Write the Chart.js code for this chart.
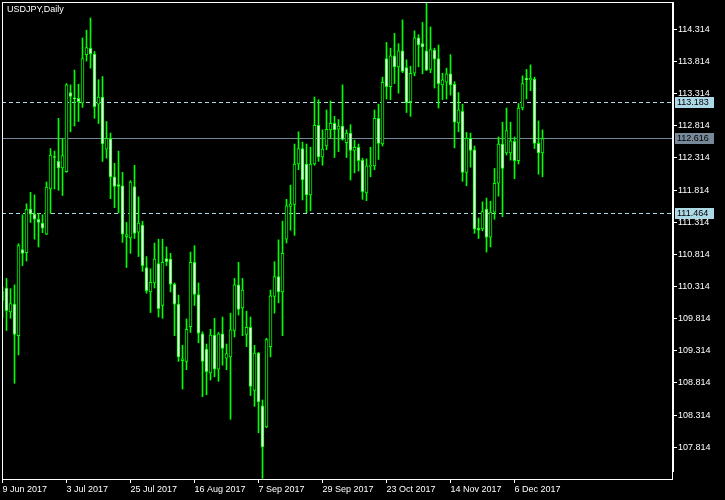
<!DOCTYPE html>
<html><head><meta charset="utf-8">
<script src="https://cdn.jsdelivr.net/npm/chart.js@4.4.1/dist/chart.umd.min.js"></script>
<style>html,body{margin:0;padding:0;background:#000;overflow:hidden}canvas{display:block}</style>
</head><body>
<canvas id="c" width="725" height="500" style="width:725px;height:500px"></canvas>
<script>
const symbolTitle = 'USDJPY,Daily';
const dateLabels = ['9 Jun 2017','3 Jul 2017','25 Jul 2017','16 Aug 2017','7 Sep 2017','29 Sep 2017','23 Oct 2017','14 Nov 2017','6 Dec 2017'];
const dateLabelIndex = [0,16,32,48,64,80,96,112,128];
const priceTicks = [107.814,108.314,108.814,109.314,109.814,110.314,110.814,111.314,111.814,112.314,112.814,113.314,113.814,114.314];
const levelPrices = [113.183, 112.616, 111.464];

const opens = [110.10,110.29,109.92,110.04,109.55,110.89,110.84,111.52,111.44,111.36,
111.30,111.13,111.83,112.33,112.26,112.16,112.10,113.33,113.25,113.24,
113.17,113.92,114.02,113.93,113.15,113.26,112.45,112.61,112.02,111.90,
111.88,111.09,111.07,111.87,111.16,111.27,110.61,110.23,110.37,110.67,
110.02,110.75,110.74,110.35,110.04,109.16,109.15,109.69,110.69,110.19,
109.58,109.34,108.97,109.56,109.03,109.58,109.20,109.22,109.63,110.34,
109.98,109.57,109.68,108.70,109.28,108.46,108.13,109.38,110.16,110.47,
110.23,111.05,111.56,111.59,112.22,112.46,112.22,111.74,112.22,112.82,
112.33,112.50,112.75,112.85,112.76,112.81,112.55,112.70,112.43,112.48,
112.28,111.77,112.18,112.19,112.93,112.53,113.86,113.42,113.90,113.73,
113.98,113.72,113.19,113.63,114.18,114.09,113.98,113.69,113.99,113.86,
113.45,113.49,113.62,113.46,112.86,113.04,112.09,112.62,112.44,111.22,
111.21,111.52,111.08,111.47,111.92,112.53,112.39,112.39,112.57,112.27,
113.09,113.55,113.53,113.54,112.54,112.39];
const highs = [110.31,110.44,110.28,110.34,110.98,111.43,111.60,111.78,111.74,111.45,
111.43,111.94,112.46,112.42,112.93,112.61,113.47,113.45,113.68,113.46,
114.18,114.30,114.49,113.97,113.53,113.58,112.88,112.70,112.23,112.42,
112.09,111.31,111.96,112.20,111.71,111.33,110.78,110.59,110.99,111.05,
111.05,110.93,110.83,110.37,110.18,109.40,109.81,110.85,110.95,110.37,
109.61,109.42,109.65,109.82,109.60,109.84,109.42,109.90,110.44,110.69,
110.44,109.93,109.84,109.40,109.29,108.55,109.51,110.26,110.70,111.04,
111.33,111.67,111.89,112.53,112.72,112.56,112.53,112.48,113.26,113.22,
112.75,113.06,113.20,112.96,112.91,113.45,112.75,112.83,112.59,112.53,
112.31,112.30,112.48,113.06,113.15,113.57,114.11,114.02,114.25,114.09,
114.46,113.84,113.74,114.29,114.23,114.42,114.73,114.35,114.02,114.07,
113.63,113.71,113.92,113.50,113.33,113.15,112.71,112.70,112.50,111.38,
111.63,111.69,111.64,112.15,112.64,112.87,113.09,112.87,112.64,113.16,
113.59,113.69,113.76,113.57,112.89,112.75];
const lows = [109.83,109.63,109.82,108.81,109.25,110.64,110.71,111.31,111.05,110.93,
111.15,111.12,111.45,111.83,111.81,111.73,112.09,112.72,112.81,112.88,
113.10,113.82,113.71,112.93,112.85,112.26,112.31,111.68,111.54,111.46,
111.00,110.61,110.83,111.06,110.78,110.55,110.21,109.91,110.29,109.84,
109.82,110.64,110.23,109.55,109.15,108.72,109.02,109.60,110.02,109.44,
108.60,108.63,108.86,108.91,108.84,109.09,109.02,108.25,109.53,109.87,
109.55,109.38,108.62,108.45,108.04,107.33,108.12,109.22,109.90,110.06,
109.55,110.99,111.19,111.11,112.13,111.66,111.46,111.49,112.20,112.26,
112.20,112.44,112.62,112.32,112.41,112.59,112.32,111.97,112.08,112.11,
111.67,111.65,112.02,112.13,112.29,112.50,113.23,113.22,113.47,113.32,
113.64,113.02,112.96,113.59,113.73,113.62,113.67,113.64,113.40,113.09,
113.22,113.23,113.29,112.47,112.72,111.95,111.88,112.17,111.14,111.06,
111.18,110.85,110.93,111.36,111.72,111.40,112.36,112.28,111.99,112.22,
113.06,113.23,113.36,112.46,112.06,112.02];
const closes = [110.23,109.94,110.05,109.57,110.95,110.83,111.52,111.44,111.36,111.31,
111.22,111.86,112.36,112.32,112.16,112.35,113.45,113.27,113.23,113.19,
113.86,114.03,113.93,113.11,113.26,112.53,112.62,112.02,111.87,111.87,
111.13,111.12,111.94,111.14,111.30,110.64,110.25,110.38,110.74,109.97,
110.69,110.70,110.35,110.04,109.22,109.19,109.65,110.69,110.19,109.59,
109.15,108.99,109.56,109.03,109.58,109.35,109.27,109.64,110.34,109.96,
110.26,109.68,108.76,109.28,108.52,107.82,109.49,110.17,110.47,110.23,
110.83,111.57,111.60,112.22,112.46,111.97,111.74,112.22,112.82,112.33,
112.45,112.76,112.85,112.75,112.81,112.60,112.70,112.43,112.48,112.27,
111.79,112.19,112.20,112.93,112.54,113.49,113.42,113.90,113.73,113.98,
113.66,113.17,113.63,114.18,114.07,114.04,113.68,114.00,113.85,113.47,
113.53,113.62,113.45,112.87,113.06,112.09,112.62,112.43,111.21,111.19,
111.48,111.08,111.47,111.92,112.53,112.15,112.74,112.58,112.27,113.09,
113.47,113.53,113.55,112.54,112.39,112.616];

const GREEN = '#00ff00';
const FONT = 'Liberation Sans';
const idx = opens.map((_, i) => i);
const wickData = idx.map(i => ({x: i, y: [lows[i], highs[i]]}));
const bodyData = idx.map(i => ({x: i, y: [Math.min(opens[i], closes[i]), Math.max(opens[i], closes[i])]}));
const bodyFill = idx.map(i => closes[i] < opens[i] ? '#ffffff' : '#000000');

const levelStyle = [
  {color: '#add8e6', dash: [4, 3]},
  {color: '#778899', dash: []},
  {color: '#add8e6', dash: [4, 3]}
];

const framePlugin = {
  id: 'frame',
  beforeDraw(chart) {
    const c = chart.ctx;
    c.save(); c.fillStyle = '#000'; c.fillRect(0, 0, chart.width, chart.height); c.restore();
  },
  beforeDatasetsDraw(chart) {
    const c = chart.ctx, a = chart.chartArea, ys = chart.scales.y;
    c.save();
    levelPrices.forEach((p, i) => {
      const y = Math.round(ys.getPixelForValue(p)) + 0.5;
      c.strokeStyle = levelStyle[i].color;
      c.lineWidth = 1;
      c.setLineDash(levelStyle[i].dash);
      c.beginPath(); c.moveTo(a.left, y); c.lineTo(a.right, y); c.stroke();
    });
    c.restore();
  },
  afterDraw(chart) {
    const c = chart.ctx, a = chart.chartArea, ys = chart.scales.y;
    c.save();
    c.strokeStyle = '#ffffff'; c.lineWidth = 1; c.setLineDash([]);
    c.strokeRect(a.left + 0.5, a.top + 0.5, a.right - a.left, a.bottom - a.top);
    c.beginPath(); c.moveTo(a.right + 1.5, a.top); c.lineTo(a.right + 1.5, a.bottom - 7); c.stroke();
    c.fillStyle = '#ffffff';
    c.font = '9px "' + FONT + '"';
    c.textBaseline = 'top'; c.textAlign = 'left';
    c.fillText(symbolTitle, a.left + 5, a.top + 3);
    levelPrices.forEach((p, i) => {
      const y = Math.round(ys.getPixelForValue(p));
      c.fillStyle = levelStyle[i].color;
      c.fillRect(a.right + 3, y - 5, 39, 11);
      c.fillStyle = '#000000';
      c.textBaseline = 'middle';
      c.fillText(p.toFixed(3), a.right + 5, y + 0.5);
    });
    c.restore();
  }
};

new Chart(document.getElementById('c'), {
  type: 'bar',
  data: {
    datasets: [
      {data: wickData, backgroundColor: GREEN, borderWidth: 0, barThickness: 1, grouped: false, order: 2},
      {data: bodyData, backgroundColor: bodyFill, borderColor: GREEN, borderWidth: 1, borderSkipped: false,
       barThickness: 3, grouped: false, minBarLength: 1, order: 1}
    ]
  },
  options: {
    responsive: false, animation: false, devicePixelRatio: 1,
    layout: {padding: {left: 2, top: 2, right: 0, bottom: 0}},
    plugins: {legend: {display: false}, tooltip: {enabled: false}, title: {display: false}},
    scales: {
      x: {
        type: 'linear', position: 'bottom', min: -0.125, max: 167.375, offset: false, bounds: 'data',
        grid: {display: true, offset: false, drawOnChartArea: false, drawTicks: true, tickLength: 4, color: '#ffffff', tickColor: '#ffffff'},
        border: {display: false},
        ticks: {color: '#ffffff', font: {family: FONT, size: 9}, align: 'start', padding: 1, maxRotation: 0, autoSkip: false,
          callback: (v) => { const j = dateLabelIndex.indexOf(v); return j >= 0 ? dateLabels[j] : ''; }},
        afterBuildTicks: (s) => { s.ticks = dateLabelIndex.map(v => ({value: v})); },
        afterFit: (s) => { s.height = 21; s.paddingLeft = 0; s.paddingRight = 0; }
      },
      y: {
        type: 'linear', position: 'right', min: 107.3211, max: 114.7385, bounds: 'data',
        grid: {display: true, drawOnChartArea: false, drawTicks: true, tickLength: 5, color: '#ffffff', tickColor: '#ffffff'},
        border: {display: false},
        ticks: {color: '#ffffff', font: {family: FONT, size: 9}, padding: 1, callback: (v) => Number(v).toFixed(3)},
        afterBuildTicks: (s) => { s.ticks = priceTicks.map(v => ({value: v})); },
        afterFit: (s) => { s.width = 53; s.paddingTop = 0; s.paddingBottom = 0; }
      }
    }
  },
  plugins: [framePlugin]
});
</script>
</body></html>
